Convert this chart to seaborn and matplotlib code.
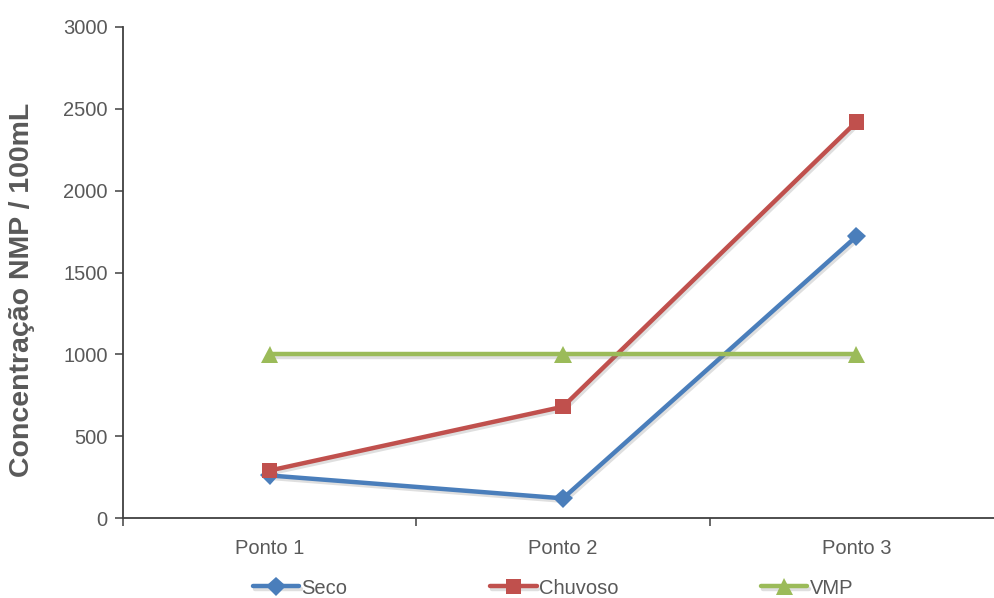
import matplotlib
matplotlib.use("Agg")
import matplotlib.pyplot as plt
import matplotlib.patheffects as pe
import seaborn as sns
import pandas as pd

# Coliform concentration per sampling point
pontos = ["Ponto 1", "Ponto 2", "Ponto 3"]
seco = [260, 120, 1720]
chuvoso = [290, 680, 2420]
vmp = [1000, 1000, 1000]
series_names = ["Seco", "Chuvoso", "VMP"]
y_ticks = [0, 500, 1000, 1500, 2000, 2500, 3000]

df = pd.DataFrame({
    "Ponto": pontos * 3,
    "Valor": seco + chuvoso + vmp,
    "Serie": [series_names[0]] * 3 + [series_names[1]] * 3 + [series_names[2]] * 3,
})

sns.set_theme(style="white")
plt.rcParams["font.family"] = ["Liberation Sans", "DejaVu Sans"]

text_gray = "#595959"
axis_gray = "#404040"
palette = {"Seco": "#4A7EBB", "Chuvoso": "#C0504D", "VMP": "#9BBB59"}
markers = {"Seco": "D", "Chuvoso": "s", "VMP": "^"}

fig = plt.figure(figsize=(9.95, 5.98), dpi=100)
ax = fig.add_axes([123 / 995, 80 / 598, 880 / 995, 491 / 598])

sns.lineplot(
    data=df, x="Ponto", y="Valor", hue="Serie", style="Serie",
    hue_order=series_names, style_order=series_names,
    palette=palette, markers=markers, dashes=False,
    linewidth=3.2, markersize=11, legend=False, ax=ax, sort=False,
)

shadow = [pe.SimpleLineShadow(offset=(1.2, -1.8), shadow_color="gray", alpha=0.25), pe.Normal()]
lines = ax.lines[:3]
for ln in lines:
    ln.set_markeredgecolor(ln.get_color())
    ln.set_markeredgewidth(0)
    ln.set_path_effects(shadow)
lines[0].set_markersize(10)
lines[1].set_markersize(11)
lines[2].set_markersize(12.5)

ax.set_xlim(-0.5, 2.5)
ax.set_ylim(0, 3000)
ax.set_yticks(y_ticks)
ax.set_xticks(range(len(pontos)))
ax.set_xticklabels(pontos)
ax.set_xticks([-0.5, 0.5, 1.5, 2.5], minor=True)
ax.set_xlabel("")
ax.set_ylabel("")

for side in ["top", "right"]:
    ax.spines[side].set_visible(False)
for side in ["left", "bottom"]:
    ax.spines[side].set_color(axis_gray)
    ax.spines[side].set_linewidth(1.3)

ax.tick_params(axis="y", which="major", direction="out", length=6, width=1.1,
               color=axis_gray, labelcolor=text_gray, labelsize=14.5, pad=5, left=True)
ax.tick_params(axis="x", which="major", length=0, labelcolor=text_gray,
               labelsize=14.5, pad=15)
ax.tick_params(axis="x", which="minor", direction="out", length=6, width=1.1,
               color=axis_gray, bottom=True)

fig.text(22 / 995, 1 - 290 / 598, "Concentração NMP / 100mL", rotation=90,
         ha="center", va="center", fontsize=20.5, fontweight="bold", color=text_gray)

leg = fig.legend(handles=lines, labels=series_names, loc="center",
                 bbox_to_anchor=(553 / 995, 10 / 598), ncol=3, frameon=False,
                 handlelength=2.3, handletextpad=0.1, columnspacing=7.1,
                 fontsize=14.5, labelcolor=text_gray)

fig.savefig("out.png", dpi=100, facecolor="white")
